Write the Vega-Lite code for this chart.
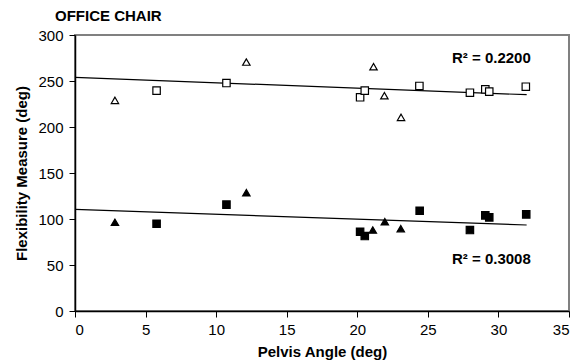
{
  "$schema": "https://vega.github.io/schema/vega-lite/v6.json",
  "autosize": "none",
  "width": 494,
  "height": 276,
  "padding": {"left": 75, "top": 35, "right": 10, "bottom": 51},
  "background": "white",
  "config": {
    "font": "Liberation Sans",
    "view": {"stroke": "#808080", "strokeWidth": 2},
    "axis": {"grid": false, "domainColor": "black", "tickColor": "black", "labelColor": "black", "titleColor": "black", "labelFont": "Liberation Sans", "titleFont": "Liberation Sans", "labelFontSize": 15, "titleFontSize": 15, "titleFontWeight": "bold", "tickSize": 6, "domainWidth": 1.5}
  },
  "title": {"text": "OFFICE CHAIR", "anchor": "start", "frame": "group", "dx": -20, "offset": 4, "fontSize": 15, "fontWeight": "bold", "font": "Liberation Sans", "color": "black"},
  "datasets": {
    "points": [
      {"angle": 2.83, "value": 229, "marker": "triangle", "fill": "open"},
      {"angle": 5.78, "value": 239.5, "marker": "square", "fill": "open"},
      {"angle": 10.73, "value": 247.8, "marker": "square", "fill": "open"},
      {"angle": 12.14, "value": 270.6, "marker": "triangle", "fill": "open"},
      {"angle": 20.2, "value": 232.3, "marker": "square", "fill": "open"},
      {"angle": 20.53, "value": 239.5, "marker": "square", "fill": "open"},
      {"angle": 21.15, "value": 265.6, "marker": "triangle", "fill": "open"},
      {"angle": 21.92, "value": 234, "marker": "triangle", "fill": "open"},
      {"angle": 23.1, "value": 210.5, "marker": "triangle", "fill": "open"},
      {"angle": 24.4, "value": 244.6, "marker": "square", "fill": "open"},
      {"angle": 27.98, "value": 237.3, "marker": "square", "fill": "open"},
      {"angle": 29.07, "value": 241, "marker": "square", "fill": "open"},
      {"angle": 29.35, "value": 238.4, "marker": "square", "fill": "open"},
      {"angle": 31.94, "value": 243.8, "marker": "square", "fill": "open"},
      {"angle": 2.83, "value": 96.4, "marker": "triangle", "fill": "filled"},
      {"angle": 5.78, "value": 94.9, "marker": "square", "fill": "filled"},
      {"angle": 10.73, "value": 115.6, "marker": "square", "fill": "filled"},
      {"angle": 12.14, "value": 128.6, "marker": "triangle", "fill": "filled"},
      {"angle": 20.2, "value": 86.2, "marker": "square", "fill": "filled"},
      {"angle": 20.53, "value": 81.5, "marker": "square", "fill": "filled"},
      {"angle": 21.1, "value": 88, "marker": "triangle", "fill": "filled"},
      {"angle": 21.95, "value": 97.1, "marker": "triangle", "fill": "filled"},
      {"angle": 23.08, "value": 89.5, "marker": "triangle", "fill": "filled"},
      {"angle": 24.42, "value": 109, "marker": "square", "fill": "filled"},
      {"angle": 27.98, "value": 88, "marker": "square", "fill": "filled"},
      {"angle": 29.07, "value": 104, "marker": "square", "fill": "filled"},
      {"angle": 29.35, "value": 101.8, "marker": "square", "fill": "filled"},
      {"angle": 31.97, "value": 105, "marker": "square", "fill": "filled"}
    ],
    "trend": [
      {"angle": 0, "value": 254, "group": "upper"},
      {"angle": 32, "value": 235.1, "group": "upper"},
      {"angle": 0, "value": 110.5, "group": "lower"},
      {"angle": 32, "value": 93.5, "group": "lower"}
    ],
    "labels": [
      {"angle": 29.5, "value": 275, "label": "R² = 0.2200"},
      {"angle": 29.5, "value": 56.2, "label": "R² = 0.3008"}
    ]
  },
  "encoding": {
    "x": {"field": "angle", "type": "quantitative", "scale": {"domain": [0, 35], "nice": false, "zero": true}, "axis": {"values": [0, 5, 10, 15, 20, 25, 30, 35], "title": "Pelvis Angle (deg)", "titlePadding": 7, "labelPadding": 5}},
    "y": {"field": "value", "type": "quantitative", "scale": {"domain": [0, 300], "nice": false}, "axis": {"values": [0, 50, 100, 150, 200, 250, 300], "title": "Flexibility Measure (deg)", "titlePadding": 8, "labelPadding": 6}}
  },
  "layer": [
    {
      "data": {"name": "trend"},
      "mark": {"type": "line", "color": "black", "strokeWidth": 1.2},
      "encoding": {"detail": {"field": "group"}}
    },
    {
      "data": {"name": "points"},
      "mark": {"type": "point", "stroke": "black", "strokeWidth": 1.2, "opacity": 1, "size": 55},
      "encoding": {
        "shape": {"field": "marker", "type": "nominal", "scale": {"domain": ["square", "triangle"], "range": ["square", "triangle-up"]}, "legend": null},
        "fill": {"field": "fill", "type": "nominal", "scale": {"domain": ["open", "filled"], "range": ["white", "black"]}, "legend": null}
      }
    },
    {
      "data": {"name": "labels"},
      "mark": {"type": "text", "fontSize": 15, "fontWeight": "bold", "font": "Liberation Sans", "color": "black", "align": "center", "baseline": "middle"},
      "encoding": {"text": {"field": "label"}}
    }
  ]
}
